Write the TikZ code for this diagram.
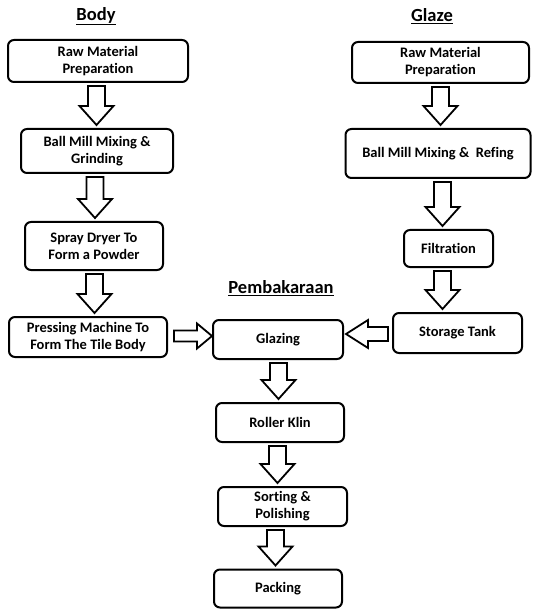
\documentclass[tikz,border=0pt]{standalone}
\usepackage{fontspec}
\setmainfont{Carlito}[RawFeature={-liga}]
\usetikzlibrary{calc}
\tikzset{
  box/.style={draw=black, line width=2pt, rounded corners=6pt, align=center,
    inner sep=0pt, font=\fontsize{14.5}{17}\selectfont\bfseries},
  blk/.style={draw=black, line width=1.8pt, fill=white, line join=miter},
  ttl/.style={font=\fontsize{18.5}{21}\selectfont\bfseries, inner sep=0pt}
}
% vertical block arrow: source, target, x
\newcommand\blkdown[3]{%
  \draw[blk] let \p1=($(#1.south)+(0,-3)$), \p2=($(#2.north)+(0,3)$) in
   (#3-8.5,\y1) -- (#3+8.5,\y1) -- (#3+8.5,\y2+19) -- (#3+17,\y2+19) --
   (#3,\y2) -- (#3-17,\y2+19) -- (#3-8.5,\y2+19) -- cycle;}
% horizontal block arrow to the right: source, target, y, shaft half, head half, head length
\newcommand\blkright[6]{%
  \draw[blk] let \p1=($(#1.east)+(6,0)$), \p2=($(#2.west)+(0,0)$) in
   (\x1,#3+#4) -- (\x2-#6,#3+#4) -- (\x2-#6,#3+#5) -- (\x2,#3) --
   (\x2-#6,#3-#5) -- (\x2-#6,#3-#4) -- (\x1,#3-#4) -- cycle;}
\newcommand\blkleft[6]{%
  \draw[blk] let \p1=($(#1.west)+(-4,0)$), \p2=($(#2.east)+(2,0)$) in
   (\x1,#3+#4) -- (\x2+#6,#3+#4) -- (\x2+#6,#3+#5) -- (\x2,#3) --
   (\x2+#6,#3-#5) -- (\x2+#6,#3-#4) -- (\x1,#3-#4) -- cycle;}
\begin{document}
\begin{tikzpicture}[x=1pt,y=1pt]
\useasboundingbox (0,0) rectangle (532,-609);
% titles
\node[ttl] (tbody) at (96,-16) {\underline{Body}};
\node[ttl] (tglaze) at (432,-16) {\underline{Glaze}};
\node[ttl] (tpemb) at (281,-288) {\underline{Pembakaraan}};
% body column
\node[box, minimum width=180pt, minimum height=42pt] (b1) at (98,-61) {Raw Material\\Preparation};
\node[box, minimum width=152pt, minimum height=44pt] (b2) at (97,-151) {Ball Mill Mixing \&\\Grinding};
\node[box, minimum width=138pt, minimum height=48pt] (b3) at (94,-246) {Spray Dryer To\\Form a Powder};
\node[box, minimum width=158pt, minimum height=40pt] (b4) at (88,-337) {Pressing Machine To\\Form The Tile Body};
% glaze column
\node[box, minimum width=177pt, minimum height=41pt] (g1) at (440.5,-62.5) {Raw Material\\Preparation};
\node[box, minimum width=185pt, minimum height=49pt] (g2) at (438,-153.5) {Ball Mill Mixing \& \ Refing};
\node[box, minimum width=89pt, minimum height=37pt] (g3) at (448.5,-248.5) {Filtration};
\node[box, minimum width=129pt, minimum height=40pt] (g4) at (457.5,-333) {Storage Tank};
% pembakaraan column
\node[box, minimum width=130pt, minimum height=39pt] (p1) at (278,-339.5) {Glazing};
\node[box, minimum width=128pt, minimum height=39pt] (p2) at (280,-422.5) {Roller Klin};
\node[box, minimum width=129pt, minimum height=39pt] (p3) at (282.5,-506.5) {Sorting \&\\Polishing};
\node[box, minimum width=128pt, minimum height=38pt] (p4) at (278,-588.5) {Packing};
% arrows
\blkdown{b1}{b2}{96.5}
\blkdown{b2}{b3}{95}
\blkdown{b3}{b4}{94.5}
\blkdown{g1}{g2}{440.5}
\blkdown{g2}{g3}{442.5}
\blkdown{g3}{g4}{442.5}
\blkdown{p1}{p2}{278.5}
\blkdown{p2}{p3}{277.5}
\blkdown{p3}{p4}{275.5}
\blkright{b4}{p1}{-336}{5.5}{12.5}{15}
\blkleft{g4}{p1}{-334}{7}{14}{22}
\end{tikzpicture}
\end{document}
